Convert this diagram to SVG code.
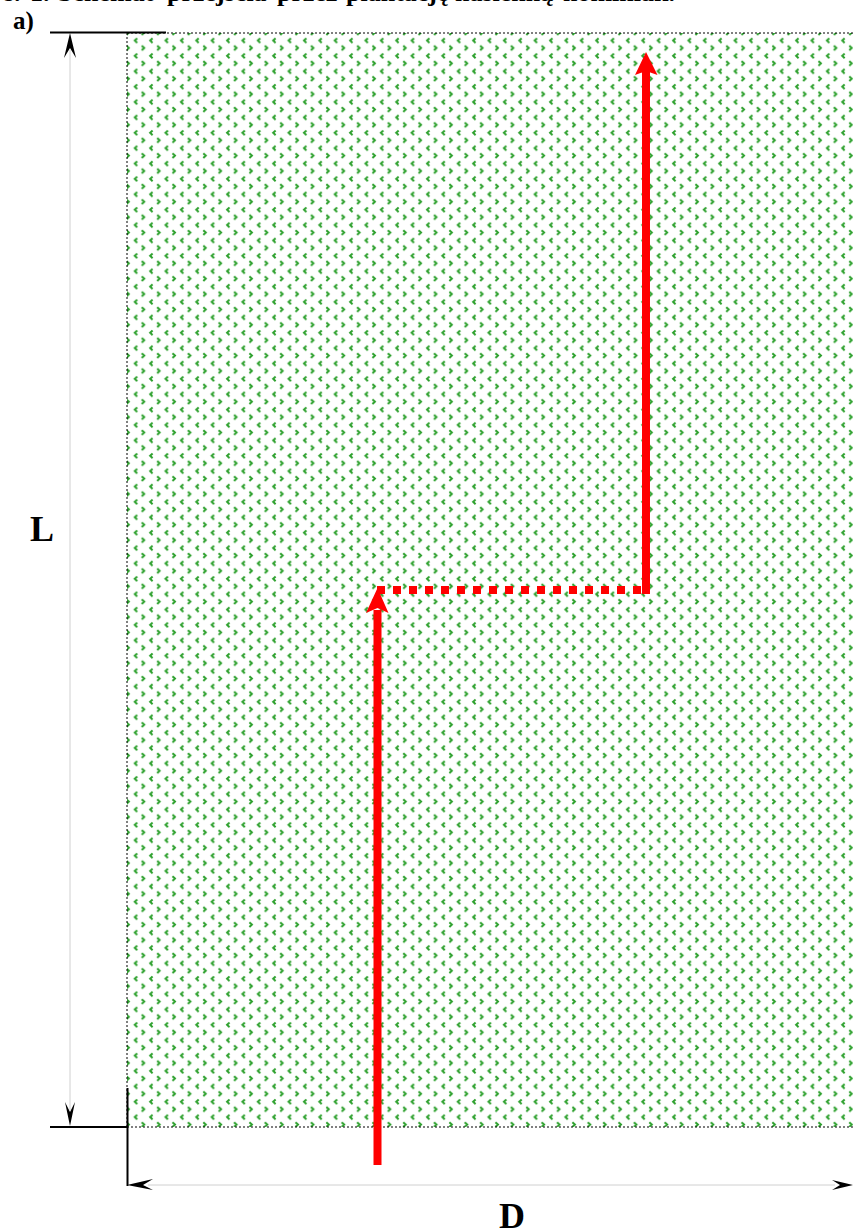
<svg xmlns="http://www.w3.org/2000/svg" width="854" height="1232" viewBox="0 0 854 1232">
<style>
text{font-family:"Liberation Serif","Times New Roman",serif;font-weight:bold;fill:#000}
.dot{fill:none;stroke:#000;stroke-width:1;stroke-dasharray:2 2}
.blk{fill:none;stroke:#000;stroke-width:2}
.dim{fill:none;stroke:#d0d0d0;stroke-width:1}
.red{fill:none;stroke:#f00;stroke-width:8}
.c{fill:none;stroke:#2ca02c;stroke-width:2}
</style>
<defs>
<pattern id="seed" patternUnits="userSpaceOnUse" x="127" y="33" width="15.38" height="15.38">
<path class="c" d="M10.200 5.200L7.800 7.500L10.200 9.800"/>
<path class="c" d="M14.800 12.700L17.200 15L14.800 17.300"/>
<path class="c" d="M14.800 -2.680L17.200 -.38L14.800 1.920"/>
<path class="c" d="M-.58 12.700L1.820 15L-.58 17.300"/>
<path class="c" d="M-.58 -2.680L1.820 -.38L-.58 1.920"/>
</pattern>
</defs>
<text y="1" font-size="26"><tspan x="4">s.</tspan> <tspan x="30">1.</tspan> <tspan x="58">Schemat</tspan> <tspan x="167">przejścia</tspan> <tspan x="277">przez</tspan> <tspan x="346">plantację</tspan> <tspan x="455">nasienną</tspan> <tspan x="563">hominiak.</tspan></text>
<text x="13" y="29" font-size="25">a)</text>
<g id="plantation">
<rect x="127" y="33" width="726" height="1094" fill="url(#seed)"/>
<path class="dot" d="M127 33V1127M127 33H853M127 1127H853"/>
</g>
<g id="connectors">
<path class="blk" d="M50 32.500H166M50 1127H127M127.500 1088V1186"/>
<path class="dim" d="M70 50V1110M148 1185H835"/>
<path d="M70 33L76 58L70 48L64 58Z"/>
<path d="M70 1126L75 1102L70 1112L65 1102Z"/>
<path d="M127 1185L153 1179L143 1185L153 1190Z"/>
<path d="M853 1185L832 1180L840 1185L832 1190Z"/>
<path class="red" d="M377.500 1165V610"/>
<path d="M377.500 588L366 613L377.500 608L388.500 613Z" fill="#f00"/>
<path class="red" d="M646 594V70"/>
<path d="M646 52L635 75L646 71L657.500 75Z" fill="#f00"/>
<path class="red" d="M377 590H646" stroke-dasharray="8 8"/>
</g>
<text x="30" y="541" font-size="36">L</text>
<text x="499" y="1228" font-size="36">D</text>
</svg>
